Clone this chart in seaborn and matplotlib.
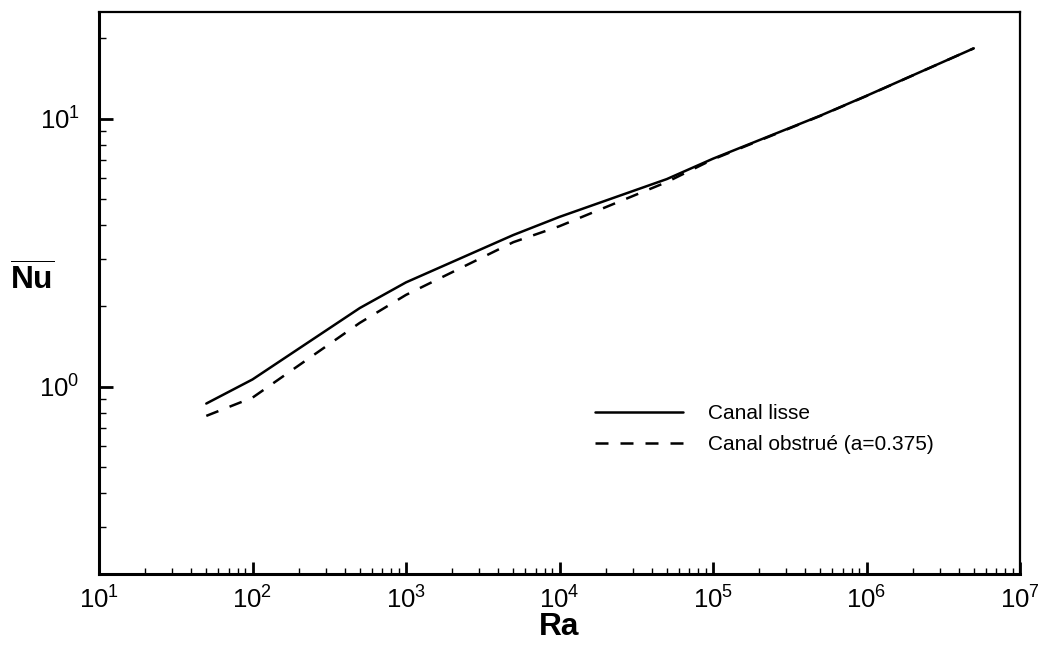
import numpy as np
import pandas as pd
import matplotlib
matplotlib.use("Agg")
import matplotlib.pyplot as plt
from matplotlib.ticker import LogLocator, LogFormatterSciNotation, NullFormatter
import seaborn as sns

# Rayleigh numbers of the computed cases
ra = [50, 100, 500, 1e3, 5e3, 1e4, 5e4, 1e5, 5e5, 1e6, 5e6]
# Mean Nusselt number, smooth channel
nu_lisse = [0.865, 1.064, 1.965, 2.45, 3.68, 4.30, 5.95, 7.09, 10.26, 12.17, 18.3]
# Mean Nusselt number, obstructed channel (a = 0.375)
nu_obstrue = [0.778, 0.91, 1.73, 2.20, 3.46, 3.97, 5.80, 7.05, 10.24, 12.15, 18.3]

label_lisse = "Canal lisse"
label_obstrue = "Canal obstrué (a=0.375)"

df = pd.concat([
    pd.DataFrame({"Ra": ra, "Nu": nu_lisse, "cas": label_lisse}),
    pd.DataFrame({"Ra": ra, "Nu": nu_obstrue, "cas": label_obstrue}),
], ignore_index=True)

sns.set_style("white")
plt.rcParams["font.family"] = ["Liberation Sans", "DejaVu Sans"]
plt.rcParams["mathtext.fontset"] = "custom"
plt.rcParams["mathtext.rm"] = "Liberation Sans"
plt.rcParams["mathtext.it"] = "Liberation Sans:italic"
plt.rcParams["mathtext.bf"] = "Liberation Sans:bold"
plt.rcParams["text.color"] = "black"
plt.rcParams["axes.labelcolor"] = "black"

W, H = 1046, 648
fig = plt.figure(figsize=(W / 100, H / 100), dpi=100)
ax = fig.add_axes([99 / W, 1 - 574 / H, (1020 - 99) / W, (574 - 12) / H])

sns.lineplot(
    data=df, x="Ra", y="Nu", style="cas",
    style_order=[label_lisse, label_obstrue],
    dashes={label_lisse: "", label_obstrue: (5.2, 4.8)},
    color="black", linewidth=1.8, sort=False, estimator=None,
    legend=False, ax=ax,
)

ax.set_xscale("log")
ax.set_yscale("log")
ax.set_xlim(10, 1e7)
ax.set_ylim(0.2, 25)

for axis in (ax.xaxis, ax.yaxis):
    axis.set_major_locator(LogLocator(base=10))
    axis.set_minor_locator(LogLocator(base=10, subs=np.arange(2, 10)))
    axis.set_minor_formatter(NullFormatter())
    axis.set_major_formatter(LogFormatterSciNotation())

ax.tick_params(which="both", direction="in", bottom=True, left=True,
               top=False, right=False, color="black",
               labelsize=18.5, labelcolor="black")
ax.tick_params(axis="y", which="major", length=10, width=2.0, pad=14)
ax.tick_params(axis="y", which="minor", length=5, width=1.0)
ax.tick_params(axis="x", which="major", length=8.6, width=2.0, pad=9)
ax.tick_params(axis="x", which="minor", length=4.3, width=1.0)

for side in ("left", "bottom"):
    ax.spines[side].set_linewidth(2.2)
for side in ("top", "right"):
    ax.spines[side].set_linewidth(1.6)
for sp in ax.spines.values():
    sp.set_color("black")
    sp.set_visible(True)

ax.set_xlabel("Ra", fontsize=22.8, fontweight="bold", color="black")
ax.xaxis.label.set_va("center")
ax.xaxis.set_label_coords(0.5, (574 - 626.7) / 562)

ax.set_ylabel(r"$\overline{\mathbf{Nu}}$", fontsize=22.8, rotation=0,
              color="black")
ax.yaxis.label.set_va("center")
ax.yaxis.label.set_ha("center")
ax.yaxis.set_label_coords((32 - 99) / 921, (574 - 280) / 562)

handles = ax.get_lines()[:2]
ax.legend(handles, [label_lisse, label_obstrue], frameon=False,
          fontsize=15, handlelength=4.2, handletextpad=1.2,
          labelspacing=0.6, borderpad=0, borderaxespad=0,
          loc="upper left", bbox_to_anchor=(595 / W, 1 - 404 / H),
          bbox_transform=fig.transFigure)

fig.savefig("out.png", dpi=100, facecolor="white")
